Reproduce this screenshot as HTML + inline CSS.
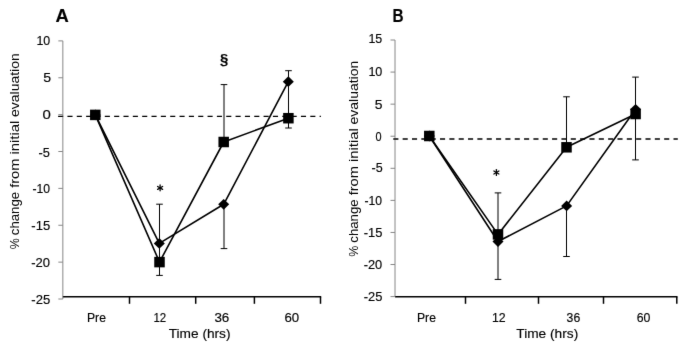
<!DOCTYPE html>
<html><head><meta charset="utf-8"><style>
html,body{margin:0;padding:0;background:#fff;}
svg{display:block;will-change:transform;}
text{font-family:"Liberation Sans",sans-serif;fill:#000;stroke:#000;stroke-width:0.15px;}
</style></head><body>
<svg width="685" height="347" viewBox="0 0 685 347">
<defs><filter id="bl" x="0" y="0" width="100%" height="100%" filterUnits="userSpaceOnUse"><feConvolveMatrix order="3" kernelMatrix="0.00524 0.06192 0.00524 0.06192 0.73137 0.06192 0.00524 0.06192 0.00524" edgeMode="duplicate" preserveAlpha="false"/></filter></defs>
<rect width="685" height="347" fill="#fff"/>
<g filter="url(#bl)">
<line x1="62.85" y1="40.9" x2="62.85" y2="299.0" stroke="#868686" stroke-width="1"/>
<line x1="58.35" y1="40.90" x2="62.85" y2="40.90" stroke="#868686" stroke-width="1"/>
<line x1="58.35" y1="77.77" x2="62.85" y2="77.77" stroke="#868686" stroke-width="1"/>
<line x1="58.35" y1="114.64" x2="62.85" y2="114.64" stroke="#868686" stroke-width="1"/>
<line x1="58.35" y1="151.51" x2="62.85" y2="151.51" stroke="#868686" stroke-width="1"/>
<line x1="58.35" y1="188.39" x2="62.85" y2="188.39" stroke="#868686" stroke-width="1"/>
<line x1="58.35" y1="225.26" x2="62.85" y2="225.26" stroke="#868686" stroke-width="1"/>
<line x1="58.35" y1="262.13" x2="62.85" y2="262.13" stroke="#868686" stroke-width="1"/>
<line x1="58.35" y1="299.00" x2="62.85" y2="299.00" stroke="#868686" stroke-width="1"/>
<line x1="62.85" y1="296.8" x2="321.2" y2="296.8" stroke="#000" stroke-width="1.5"/>
<line x1="129.5" y1="296.8" x2="129.5" y2="303.8" stroke="#000" stroke-width="1.5"/>
<line x1="195.7" y1="296.8" x2="195.7" y2="303.8" stroke="#000" stroke-width="1.5"/>
<line x1="254.4" y1="296.8" x2="254.4" y2="303.8" stroke="#000" stroke-width="1.5"/>
<line x1="320.5" y1="296.8" x2="320.5" y2="303.8" stroke="#000" stroke-width="1.5"/>
<line x1="58.1" y1="116.4" x2="320.9" y2="116.4" stroke="#000" stroke-width="1.4" stroke-dasharray="5.1 4.24"/>
<g stroke="#000" stroke-width="1">
<line x1="159.5" y1="204.2" x2="159.5" y2="275.4"/><line x1="156.2" y1="204.2" x2="162.8" y2="204.2"/><line x1="156.2" y1="275.4" x2="162.8" y2="275.4"/>
<line x1="224.0" y1="84.6" x2="224.0" y2="142.0"/><line x1="220.7" y1="84.6" x2="227.3" y2="84.6"/><line x1="220.7" y1="142.0" x2="227.3" y2="142.0"/>
<line x1="224.0" y1="204.3" x2="224.0" y2="248.6"/><line x1="220.7" y1="204.3" x2="227.3" y2="204.3"/><line x1="220.7" y1="248.6" x2="227.3" y2="248.6"/>
<line x1="288.5" y1="70.7" x2="288.5" y2="128.0"/><line x1="285.2" y1="70.7" x2="291.8" y2="70.7"/><line x1="285.2" y1="128.0" x2="291.8" y2="128.0"/>
</g>
<polyline points="95.3,114.9 159.5,262.1 223.7,142.0 288.4,118.2" fill="none" stroke="#000" stroke-width="1.6" stroke-linejoin="round"/>
<polyline points="95.3,114.9 159.3,243.4 223.7,204.3 288.3,81.7" fill="none" stroke="#000" stroke-width="1.6" stroke-linejoin="round"/>
<g fill="#000">
<path d="M95.30 109.50L100.80 114.90L95.30 120.30L89.80 114.90Z"/>
<path d="M159.30 238.00L164.80 243.40L159.30 248.80L153.80 243.40Z"/>
<path d="M223.70 198.90L229.20 204.30L223.70 209.70L218.20 204.30Z"/>
<path d="M288.30 76.30L293.80 81.70L288.30 87.10L282.80 81.70Z"/>
<rect x="90.05" y="109.65" width="10.5" height="10.5"/>
<rect x="154.25" y="256.85" width="10.5" height="10.5"/>
<rect x="218.45" y="136.75" width="10.5" height="10.5"/>
<rect x="283.15" y="112.95" width="10.5" height="10.5"/>
</g>
<line x1="395" y1="40.0" x2="395" y2="296.6" stroke="#868686" stroke-width="1"/>
<line x1="390.5" y1="40.00" x2="395" y2="40.00" stroke="#868686" stroke-width="1"/>
<line x1="390.5" y1="72.08" x2="395" y2="72.08" stroke="#868686" stroke-width="1"/>
<line x1="390.5" y1="104.15" x2="395" y2="104.15" stroke="#868686" stroke-width="1"/>
<line x1="390.5" y1="136.23" x2="395" y2="136.23" stroke="#868686" stroke-width="1"/>
<line x1="390.5" y1="168.30" x2="395" y2="168.30" stroke="#868686" stroke-width="1"/>
<line x1="390.5" y1="200.38" x2="395" y2="200.38" stroke="#868686" stroke-width="1"/>
<line x1="390.5" y1="232.45" x2="395" y2="232.45" stroke="#868686" stroke-width="1"/>
<line x1="390.5" y1="264.53" x2="395" y2="264.53" stroke="#868686" stroke-width="1"/>
<line x1="390.5" y1="296.60" x2="395" y2="296.60" stroke="#868686" stroke-width="1"/>
<line x1="395" y1="296.8" x2="677.5" y2="296.8" stroke="#000" stroke-width="1.5"/>
<line x1="465.5" y1="296.8" x2="465.5" y2="303.8" stroke="#000" stroke-width="1.5"/>
<line x1="538.5" y1="296.8" x2="538.5" y2="303.8" stroke="#000" stroke-width="1.5"/>
<line x1="603.5" y1="296.8" x2="603.5" y2="303.8" stroke="#000" stroke-width="1.5"/>
<line x1="676.8" y1="296.8" x2="676.8" y2="303.8" stroke="#000" stroke-width="1.5"/>
<line x1="393.3" y1="139.0" x2="677.8" y2="139.0" stroke="#000" stroke-width="1.4" stroke-dasharray="5.1 4.24"/>
<g stroke="#000" stroke-width="1">
<line x1="498.0" y1="192.9" x2="498.0" y2="279.4"/><line x1="494.7" y1="192.9" x2="501.3" y2="192.9"/><line x1="494.7" y1="279.4" x2="501.3" y2="279.4"/>
<line x1="566.5" y1="96.8" x2="566.5" y2="147.3"/><line x1="563.2" y1="96.8" x2="569.8" y2="96.8"/><line x1="563.2" y1="147.3" x2="569.8" y2="147.3"/>
<line x1="566.5" y1="205.9" x2="566.5" y2="256.5"/><line x1="563.2" y1="205.9" x2="569.8" y2="205.9"/><line x1="563.2" y1="256.5" x2="569.8" y2="256.5"/>
<line x1="635.5" y1="77.1" x2="635.5" y2="159.9"/><line x1="632.2" y1="77.1" x2="638.8" y2="77.1"/><line x1="632.2" y1="159.9" x2="638.8" y2="159.9"/>
</g>
<polyline points="429.3,136.0 498.0,234.4 566.5,147.3 635.6,114.0" fill="none" stroke="#000" stroke-width="1.6" stroke-linejoin="round"/>
<polyline points="429.3,136.0 498.0,241.5 566.6,205.9 635.6,109.3" fill="none" stroke="#000" stroke-width="1.6" stroke-linejoin="round"/>
<g fill="#000">
<path d="M429.30 130.60L434.80 136.00L429.30 141.40L423.80 136.00Z"/>
<path d="M498.00 236.10L503.50 241.50L498.00 246.90L492.50 241.50Z"/>
<path d="M566.60 200.50L572.10 205.90L566.60 211.30L561.10 205.90Z"/>
<path d="M635.60 103.90L641.10 109.30L635.60 114.70L630.10 109.30Z"/>
<rect x="424.05" y="130.75" width="10.5" height="10.5"/>
<rect x="492.75" y="229.15" width="10.5" height="10.5"/>
<rect x="561.25" y="142.05" width="10.5" height="10.5"/>
<rect x="630.35" y="108.75" width="10.5" height="10.5"/>
</g>
<g stroke="#000" stroke-width="1.3" stroke-linecap="round"><line x1="160.10" y1="185.00" x2="160.10" y2="190.80"/><line x1="157.59" y1="186.45" x2="162.61" y2="189.35"/><line x1="162.61" y1="186.45" x2="157.59" y2="189.35"/></g>
<g stroke="#000" stroke-width="1.3" stroke-linecap="round"><line x1="496.40" y1="169.60" x2="496.40" y2="175.40"/><line x1="493.89" y1="171.05" x2="498.91" y2="173.95"/><line x1="498.91" y1="171.05" x2="493.89" y2="173.95"/></g>
<text x="36.40" y="45.20" font-size="12" textLength="13.80" lengthAdjust="spacingAndGlyphs">10</text>
<text x="43.30" y="82.00" font-size="12" textLength="7.84" lengthAdjust="spacingAndGlyphs">5</text>
<text x="42.60" y="118.70" font-size="12" textLength="8.34" lengthAdjust="spacingAndGlyphs">0</text>
<text x="38.40" y="156.90" font-size="12" textLength="11.37" lengthAdjust="spacingAndGlyphs">-5</text>
<text x="32.40" y="192.80" font-size="12" textLength="17.59" lengthAdjust="spacingAndGlyphs">-10</text>
<text x="31.30" y="230.30" font-size="12" textLength="18.84" lengthAdjust="spacingAndGlyphs">-15</text>
<text x="31.30" y="267.40" font-size="12" textLength="18.78" lengthAdjust="spacingAndGlyphs">-20</text>
<text x="31.30" y="304.30" font-size="12" textLength="18.84" lengthAdjust="spacingAndGlyphs">-25</text>
<text x="368.40" y="43.25" font-size="12" textLength="13.79" lengthAdjust="spacingAndGlyphs">15</text>
<text x="368.40" y="76.33" font-size="12" textLength="13.97" lengthAdjust="spacingAndGlyphs">10</text>
<text x="374.80" y="108.65" font-size="12" textLength="7.72" lengthAdjust="spacingAndGlyphs">5</text>
<text x="375.50" y="140.98" font-size="12" textLength="6.08" lengthAdjust="spacingAndGlyphs">0</text>
<text x="371.60" y="172.30" font-size="12" textLength="11.14" lengthAdjust="spacingAndGlyphs">-5</text>
<text x="364.40" y="204.62" font-size="12" textLength="17.55" lengthAdjust="spacingAndGlyphs">-10</text>
<text x="363.70" y="236.95" font-size="12" textLength="18.61" lengthAdjust="spacingAndGlyphs">-15</text>
<text x="363.70" y="269.28" font-size="12" textLength="18.55" lengthAdjust="spacingAndGlyphs">-20</text>
<text x="363.70" y="300.60" font-size="12" textLength="18.61" lengthAdjust="spacingAndGlyphs">-25</text>
<text x="87.00" y="321.70" font-size="12" textLength="18.92" lengthAdjust="spacingAndGlyphs">Pre</text>
<text x="153.40" y="321.70" font-size="12" textLength="12.78" lengthAdjust="spacingAndGlyphs">12</text>
<text x="214.40" y="321.70" font-size="12" textLength="14.93" lengthAdjust="spacingAndGlyphs">36</text>
<text x="284.50" y="321.70" font-size="12" textLength="14.76" lengthAdjust="spacingAndGlyphs">60</text>
<text x="417.00" y="321.70" font-size="12" textLength="18.92" lengthAdjust="spacingAndGlyphs">Pre</text>
<text x="491.90" y="321.70" font-size="12" textLength="13.71" lengthAdjust="spacingAndGlyphs">12</text>
<text x="566.60" y="321.70" font-size="12" textLength="13.62" lengthAdjust="spacingAndGlyphs">36</text>
<text x="636.80" y="321.70" font-size="12" textLength="13.66" lengthAdjust="spacingAndGlyphs">60</text>
<text x="168.70" y="338.30" font-size="13" textLength="61.83" lengthAdjust="spacingAndGlyphs">Time (hrs)</text>
<text x="516.30" y="338.30" font-size="13" textLength="61.91" lengthAdjust="spacingAndGlyphs">Time (hrs)</text>
<text x="219.90" y="63.60" font-size="14" font-weight="bold" textLength="8.34" lengthAdjust="spacingAndGlyphs">&#167;</text>
<text x="55.50" y="21.60" font-size="18" font-weight="bold" textLength="13.29" lengthAdjust="spacingAndGlyphs">A</text>
<text x="392.60" y="22.00" font-size="18" font-weight="bold" textLength="11.07" lengthAdjust="spacingAndGlyphs">B</text>
<text transform="translate(18.50 249.20) rotate(-90)" font-size="13.5" textLength="11.04" lengthAdjust="spacingAndGlyphs" style="stroke-width:0">%</text>
<text transform="translate(18.50 235.20) rotate(-90)" font-size="13.5" textLength="43.32" lengthAdjust="spacingAndGlyphs" style="stroke-width:0">change</text>
<text transform="translate(18.50 187.80) rotate(-90)" font-size="13.5" textLength="29.12" lengthAdjust="spacingAndGlyphs" style="stroke-width:0">from</text>
<text transform="translate(18.50 154.60) rotate(-90)" font-size="13.5" textLength="33.97" lengthAdjust="spacingAndGlyphs" style="stroke-width:0">initial</text>
<text transform="translate(18.50 116.90) rotate(-90)" font-size="13.5" textLength="63.60" lengthAdjust="spacingAndGlyphs" style="stroke-width:0">evaluation</text>
<text transform="translate(357.90 256.70) rotate(-90)" font-size="13.5" textLength="11.04" lengthAdjust="spacingAndGlyphs" style="stroke-width:0">%</text>
<text transform="translate(357.90 242.70) rotate(-90)" font-size="13.5" textLength="43.32" lengthAdjust="spacingAndGlyphs" style="stroke-width:0">change</text>
<text transform="translate(357.90 195.30) rotate(-90)" font-size="13.5" textLength="29.16" lengthAdjust="spacingAndGlyphs" style="stroke-width:0">from</text>
<text transform="translate(357.90 162.10) rotate(-90)" font-size="13.5" textLength="34.01" lengthAdjust="spacingAndGlyphs" style="stroke-width:0">initial</text>
<text transform="translate(357.90 124.40) rotate(-90)" font-size="13.5" textLength="63.64" lengthAdjust="spacingAndGlyphs" style="stroke-width:0">evaluation</text>
</g>
</svg>
</body></html>
